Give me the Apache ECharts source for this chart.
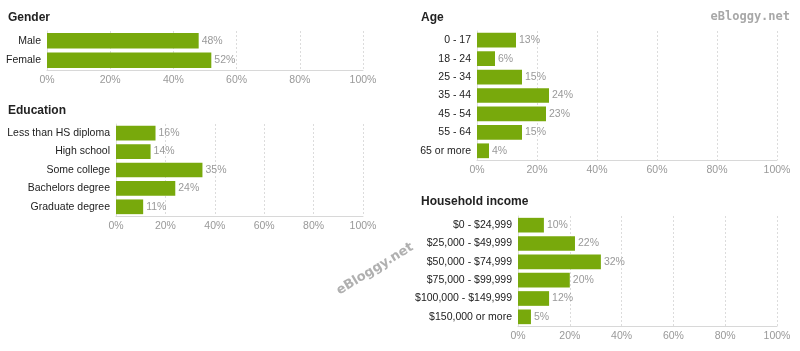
<!DOCTYPE html>
<html lang="en">
<head>
  <meta charset="UTF-8">
  <title>Audience</title>
  <style>
    html, body { margin: 0; padding: 0; background: #fff; }
    #chart { width: 800px; height: 351px; }
  </style>
</head>
<body>
  <div id="chart"></div>
  <script src="https://cdn.jsdelivr.net/npm/echarts@6/dist/echarts.min.js"></script>
  <script>
    // data
    let genderNames = ['Male', 'Female'];
    let genderValues = [48, 52];

    let eduNames = ['Less than HS diploma', 'High school', 'Some college', 'Bachelors degree', 'Graduate degree'];
    let eduValues = [16, 14, 35, 24, 11];

    let ageNames = ['0 - 17', '18 - 24', '25 - 34', '35 - 44', '45 - 54', '55 - 64', '65 or more'];
    let ageValues = [13, 6, 15, 24, 23, 15, 4];

    let incomeNames = ['$0 - $24,999', '$25,000 - $49,999', '$50,000 - $74,999', '$75,000 - $99,999', '$100,000 - $149,999', '$150,000 or more'];
    let incomeValues = [10, 22, 32, 20, 12, 5];

    let ticks = [0, 20, 40, 60, 80, 100];

    let font = 'Liberation Sans, Arial, sans-serif';
    let green = '#78a90c';

    let panels = [
      { title: 'Gender', names: genderNames, values: genderValues, left: 47, right: 437, top: 31, height: 39, tx: 8, ty: 12 },
      { title: 'Education', names: eduNames, values: eduValues, left: 116, right: 437, top: 124, height: 92, tx: 8, ty: 105 },
      { title: 'Age', names: ageNames, values: ageValues, left: 477, right: 23, top: 31, height: 129, tx: 421, ty: 12 },
      { title: 'Household income', names: incomeNames, values: incomeValues, left: 518, right: 23, top: 216, height: 110, tx: 421, ty: 196 }
    ];

    let chart = echarts.init(document.getElementById('chart'));

    let option = {
      backgroundColor: '#fff',
      animation: false,
      title: panels.map(p => ({
        text: p.title,
        left: p.tx,
        top: p.ty,
        padding: 0,
        textStyle: { fontFamily: font, fontSize: 12, fontWeight: 'bold', color: '#222' }
      })),
      grid: panels.map(p => ({ left: p.left, right: p.right, top: p.top, height: p.height })),
      xAxis: panels.map((p, i) => ({
        type: 'value',
        gridIndex: i,
        min: 0,
        max: 100,
        interval: 20,
        axisLine: { show: true, lineStyle: { color: '#d8d8d8' } },
        axisTick: { show: false },
        axisLabel: {
          formatter: v => ticks.includes(v) ? v + '%' : '',
          color: '#999',
          fontFamily: font,
          fontSize: 10.5,
          margin: 5
        },
        splitLine: { show: true, lineStyle: { color: '#dcdcdc', type: [2, 2] } }
      })),
      yAxis: panels.map((p, i) => ({
        type: 'category',
        gridIndex: i,
        inverse: true,
        data: p.names,
        axisLine: { show: true, lineStyle: { color: '#e0e0e0' } },
        axisTick: { show: false },
        axisLabel: { color: '#222', fontFamily: font, fontSize: 10.5, margin: 6 }
      })),
      series: panels.map((p, i) => ({
        type: 'bar',
        xAxisIndex: i,
        yAxisIndex: i,
        data: p.values,
        barCategoryGap: '20%',
        itemStyle: { color: green },
        label: {
          show: true,
          position: 'right',
          distance: 3,
          formatter: '{c}%',
          color: '#999',
          fontFamily: font,
          fontSize: 10.5
        }
      })),
      graphic: [
        {
          type: 'text',
          right: 10,
          top: 11,
          style: { text: 'eBloggy.net', font: 'bold 12px DejaVu Sans Mono, monospace', fill: '#a8a8a8' }
        },
        {
          type: 'text',
          x: 375,
          y: 269,
          rotation: 0.55,
          style: { text: 'eBloggy.net', font: 'bold 13px DejaVu Sans, sans-serif', fill: '#b0b0b0', align: 'center', verticalAlign: 'middle' }
        }
      ]
    };

    chart.setOption(option);
  </script>
</body>
</html>
